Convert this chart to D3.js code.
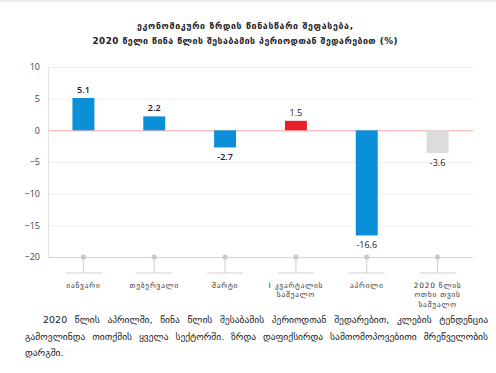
<!DOCTYPE html>
<head>
  <meta charset="utf-8">
  <style>
    body { margin: 0; background: #fff; }
    #wrap { position: relative; width: 496px; height: 373px; overflow: hidden; }
    #note {
      position: absolute; left: 25px; top: 312px; width: 463px;
      font: 9.5px "DejaVu Sans", sans-serif; line-height: 16.5px;
      color: #222; text-align: justify; text-indent: 18px;
    }
  </style>
</head>
<body>
<div id="wrap">
  <svg id="chart" width="496" height="373"></svg>
  <div id="note"></div>
</div>
<script src="https://cdn.jsdelivr.net/npm/d3@7"></script>
<script>
  // data
  var titleLines = ["ეკონომიკური ზრდის წინასწარი შეფასება,",
                    "2020 წელი წინა წლის შესაბამის პერიოდთან შედარებით (%)"];
  var titleWidths = [216, 305];
  var categories = ["იანვარი", "თებერვალი", "მარტი", "I კვარტალის\nსაშუალო", "აპრილი", "2020 წლის\nოთხი თვის\nსაშუალო"];
  var values = [5.1, 2.2, -2.7, 1.5, -16.6, -3.6];
  var barColors = ["#0a8fd8", "#0a8fd8", "#0a8fd8", "#e8202a", "#0a8fd8", "#dcdcdc"];
  var yTicks = [10, 5, 0, -5, -10, -15, -20];
  var noteText = "2020 წლის აპრილში, წინა წლის შესაბამის პერიოდთან შედარებით, კლების ტენდენცია გამოვლინდა თითქმის ყველა სექტორში. ზრდა დაფიქსირდა სამთომოპოვებითი მრეწველობის დარგში.";

  var svg = d3.select("#chart"),
      margin = {left: 48, right: 23, top: 67, bottom: 116},
      width = 496 - margin.left - margin.right,
      height = 373 - margin.top - margin.bottom,
      graph = svg.append("g").attr("transform", "translate(" + margin.left + "," + margin.top + ")");

  // top border
  svg.append("line").attr("x1", 0).attr("x2", 496).attr("y1", 1).attr("y2", 1)
    .attr("stroke", "#e6e6e6").attr("stroke-width", 1.5);

  // title
  svg.append("g").selectAll("text")
    .data(titleLines)
    .enter().append("text")
    .attr("x", 245)
    .attr("y", function(d, i) { return 28.5 + i * 15.5; })
    .attr("text-anchor", "middle")
    .attr("textLength", function(d, i) { return titleWidths[i]; })
    .attr("lengthAdjust", "spacing")
    .style("font", "bold 8.8px 'DejaVu Sans', sans-serif")
    .attr("fill", "#222")
    .text(function(d) { return d; });

  var x = d3.scaleBand().domain(d3.range(categories.length)).range([0, width]).paddingInner(0.69).paddingOuter(0.345);
  var y = d3.scaleLinear().domain([-20, 10]).range([height, 0]);

  // gridlines
  graph.append("g").selectAll("line")
    .data(yTicks)
    .enter().append("line")
    .attr("x1", 0).attr("x2", width)
    .attr("y1", function(d) { return y(d) + 0.5; })
    .attr("y2", function(d) { return y(d) + 0.5; })
    .attr("stroke", function(d) { return d == 0 ? "#f2a7a7" : (d == -20 ? "#d6d6d6" : "#efefef"); })
    .attr("stroke-width", function(d) { return d == -20 ? 1.2 : 1; });

  // y axis
  var yAxis = graph.append("g")
    .call(d3.axisLeft(y).tickValues(yTicks).tickSize(0).tickPadding(8));
  yAxis.select(".domain").attr("stroke", "#e3e3e3");
  yAxis.selectAll("text")
    .style("font", "9px 'Open Sans', sans-serif")
    .attr("fill", "#444");

  // bars
  graph.append("g").selectAll("rect")
    .data(values)
    .enter().append("rect")
    .attr("x", function(d, i) { return x(i); })
    .attr("y", function(d) { return y(Math.max(0, d)); })
    .attr("width", x.bandwidth())
    .attr("height", function(d) { return Math.abs(y(d) - y(0)); })
    .attr("fill", function(d, i) { return barColors[i]; });

  // value labels
  graph.append("g").selectAll("text")
    .data(values)
    .enter().append("text")
    .attr("x", function(d, i) { return x(i) + x.bandwidth() / 2; })
    .attr("y", function(d) { return d >= 0 ? y(d) - 5 : y(d) + 13; })
    .attr("text-anchor", "middle")
    .style("font", function(d, i) { return (i < 3 ? "600" : "normal") + " 9px 'Open Sans', sans-serif"; })
    .attr("fill", "#222")
    .text(function(d) { return d.toFixed(1); });

  // category markers below the axis
  var cat = graph.append("g").selectAll("g")
    .data(categories)
    .enter().append("g")
    .attr("transform", function(d, i) { return "translate(" + (x(i) + x.bandwidth() / 2) + "," + height + ")"; });

  cat.append("line").attr("x1", 0).attr("x2", 0).attr("y1", 0).attr("y2", 16)
    .attr("stroke", "#cfcfcf");
  cat.append("line").attr("x1", -18).attr("x2", 18).attr("y1", 16).attr("y2", 16)
    .attr("stroke", "#cfcfcf");
  cat.append("circle").attr("r", 2.6).attr("fill", "#c9c9c9");

  cat.append("text")
    .attr("text-anchor", "middle")
    .style("font", "7.4px 'DejaVu Sans', sans-serif")
    .style("letter-spacing", "0.8px")
    .attr("fill", "#333")
    .each(function(d) {
      var el = d3.select(this);
      d.split("\n").forEach(function(line, j) {
        el.append("tspan").attr("x", 0).attr("y", 30.5 + j * 9.5).text(line);
      });
    });

  d3.select("#note").text(noteText);
</script>
</body>
